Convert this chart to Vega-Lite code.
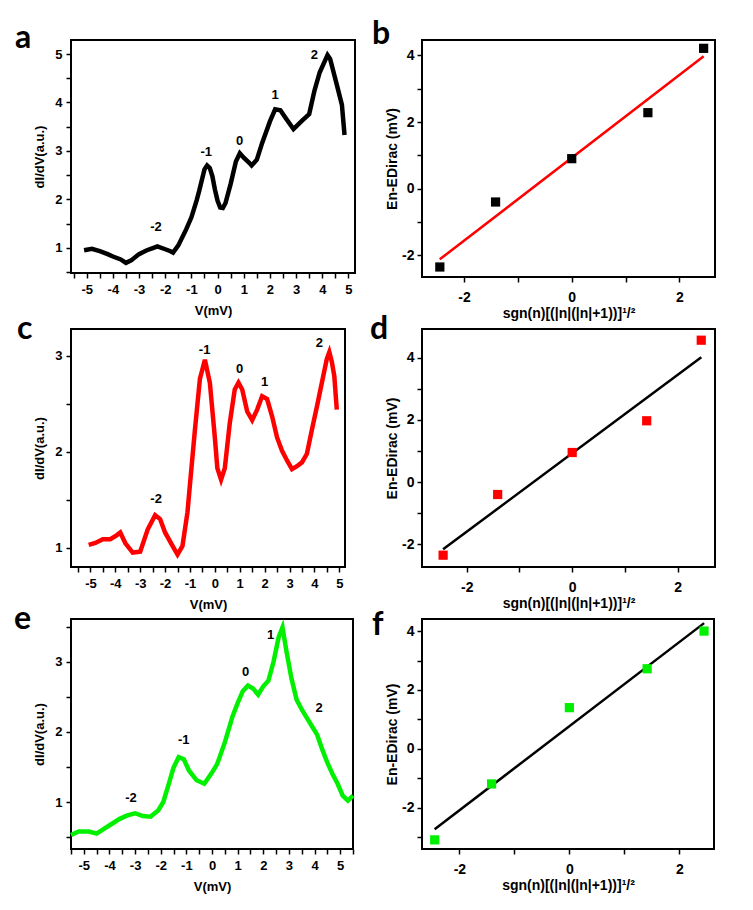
{
  "$schema": "https://vega.github.io/schema/vega-lite/v6.json",
  "description": "Landau level spectra (dI/dV) and linear fits of level energies, panels a-f.",
  "background": "white",
  "padding": {"left": 13, "top": 17, "right": 5, "bottom": 5},
  "columns": 2,
  "bounds": "flush",
  "spacing": {"column": 67, "row": 52},
  "config": {
    "font": "Liberation Sans",
    "view": {"stroke": "black", "strokeWidth": 2},
    "axis": {
      "domain": false, "grid": false, "labelOverlap": false, "tickCount": 60,
      "tickColor": "black", "tickWidth": 1.5, "tickSize": 5,
      "labelFont": "Liberation Sans", "labelFontWeight": "bold", "labelFontSize": 13, "labelColor": "black",
      "titleFont": "Liberation Sans", "titleFontWeight": "bold", "titleFontSize": 13, "titleColor": "black"
    },
    "title": {"font": "Lato", "fontSize": 32, "fontWeight": "bold", "anchor": "start", "frame": "group", "color": "black", "offset": 0, "baseline": "alphabetic"}
  },
  "datasets": {
    "curve_a": [
      {"v": -5.1, "g": 0.95}, {"v": -4.8, "g": 0.98}, {"v": -4.5, "g": 0.93}, {"v": -4.2, "g": 0.87},
      {"v": -4.0, "g": 0.82}, {"v": -3.7, "g": 0.76}, {"v": -3.5, "g": 0.69}, {"v": -3.3, "g": 0.74},
      {"v": -3.0, "g": 0.87}, {"v": -2.7, "g": 0.95}, {"v": -2.5, "g": 0.99}, {"v": -2.3, "g": 1.03},
      {"v": -2.0, "g": 0.97}, {"v": -1.8, "g": 0.93}, {"v": -1.7, "g": 0.9}, {"v": -1.5, "g": 1.05},
      {"v": -1.2, "g": 1.38}, {"v": -1.0, "g": 1.63}, {"v": -0.8, "g": 1.98}, {"v": -0.7, "g": 2.18},
      {"v": -0.5, "g": 2.62}, {"v": -0.4, "g": 2.7}, {"v": -0.3, "g": 2.65}, {"v": -0.2, "g": 2.48},
      {"v": -0.1, "g": 2.2}, {"v": 0.0, "g": 1.97}, {"v": 0.1, "g": 1.83}, {"v": 0.2, "g": 1.82},
      {"v": 0.3, "g": 1.92}, {"v": 0.5, "g": 2.32}, {"v": 0.7, "g": 2.78}, {"v": 0.85, "g": 2.95},
      {"v": 1.0, "g": 2.86}, {"v": 1.2, "g": 2.76}, {"v": 1.3, "g": 2.7}, {"v": 1.5, "g": 2.82},
      {"v": 1.7, "g": 3.16}, {"v": 2.0, "g": 3.61}, {"v": 2.2, "g": 3.86}, {"v": 2.4, "g": 3.84},
      {"v": 2.6, "g": 3.68}, {"v": 2.9, "g": 3.45}, {"v": 3.2, "g": 3.61}, {"v": 3.5, "g": 3.76},
      {"v": 3.7, "g": 4.24}, {"v": 3.9, "g": 4.62}, {"v": 4.1, "g": 4.86}, {"v": 4.2, "g": 4.98},
      {"v": 4.3, "g": 4.9}, {"v": 4.4, "g": 4.69}, {"v": 4.6, "g": 4.27}, {"v": 4.75, "g": 3.95},
      {"v": 4.85, "g": 3.33}
    ],
    "labels_a": [
      {"v": -2.35, "g": 1.42, "lab": "-2"}, {"v": -0.43, "g": 2.97, "lab": "-1"},
      {"v": 0.84, "g": 3.21, "lab": "0"}, {"v": 2.2, "g": 4.16, "lab": "1"}, {"v": 3.7, "g": 4.98, "lab": "2"}
    ],
    "curve_c": [
      {"v": -5.07, "g": 1.03}, {"v": -4.8, "g": 1.05}, {"v": -4.5, "g": 1.09}, {"v": -4.2, "g": 1.09},
      {"v": -3.95, "g": 1.13}, {"v": -3.8, "g": 1.16}, {"v": -3.6, "g": 1.05}, {"v": -3.3, "g": 0.95},
      {"v": -3.0, "g": 0.96}, {"v": -2.7, "g": 1.19}, {"v": -2.4, "g": 1.34}, {"v": -2.2, "g": 1.3},
      {"v": -2.0, "g": 1.16}, {"v": -1.7, "g": 1.02}, {"v": -1.5, "g": 0.93}, {"v": -1.3, "g": 1.02},
      {"v": -1.1, "g": 1.37}, {"v": -1.0, "g": 1.66}, {"v": -0.8, "g": 2.23}, {"v": -0.6, "g": 2.76},
      {"v": -0.4, "g": 2.96}, {"v": -0.2, "g": 2.72}, {"v": 0.0, "g": 2.15}, {"v": 0.1, "g": 1.83},
      {"v": 0.25, "g": 1.71}, {"v": 0.4, "g": 1.83}, {"v": 0.6, "g": 2.3}, {"v": 0.8, "g": 2.65},
      {"v": 0.95, "g": 2.72}, {"v": 1.1, "g": 2.65}, {"v": 1.3, "g": 2.42}, {"v": 1.5, "g": 2.33},
      {"v": 1.7, "g": 2.44}, {"v": 1.9, "g": 2.58}, {"v": 2.1, "g": 2.55}, {"v": 2.3, "g": 2.37},
      {"v": 2.5, "g": 2.15}, {"v": 2.7, "g": 2.01}, {"v": 2.9, "g": 1.91}, {"v": 3.1, "g": 1.82},
      {"v": 3.3, "g": 1.85}, {"v": 3.5, "g": 1.89}, {"v": 3.7, "g": 1.98}, {"v": 3.9, "g": 2.23},
      {"v": 4.1, "g": 2.47}, {"v": 4.3, "g": 2.72}, {"v": 4.5, "g": 2.97}, {"v": 4.6, "g": 3.04},
      {"v": 4.7, "g": 2.94}, {"v": 4.8, "g": 2.79}, {"v": 4.9, "g": 2.44}
    ],
    "labels_c": [
      {"v": -2.36, "g": 1.51, "lab": "-2"}, {"v": -0.41, "g": 3.06, "lab": "-1"},
      {"v": 1.0, "g": 2.86, "lab": "0"}, {"v": 2.0, "g": 2.73, "lab": "1"}, {"v": 4.2, "g": 3.13, "lab": "2"}
    ],
    "curve_e": [
      {"v": -5.5, "g": 0.53}, {"v": -5.2, "g": 0.58}, {"v": -4.8, "g": 0.58}, {"v": -4.5, "g": 0.55},
      {"v": -4.2, "g": 0.62}, {"v": -3.9, "g": 0.69}, {"v": -3.6, "g": 0.76}, {"v": -3.3, "g": 0.81},
      {"v": -3.0, "g": 0.84}, {"v": -2.7, "g": 0.8}, {"v": -2.4, "g": 0.79}, {"v": -2.1, "g": 0.88},
      {"v": -1.9, "g": 1.0}, {"v": -1.7, "g": 1.24}, {"v": -1.5, "g": 1.49}, {"v": -1.3, "g": 1.64},
      {"v": -1.1, "g": 1.61}, {"v": -0.9, "g": 1.45}, {"v": -0.6, "g": 1.31}, {"v": -0.3, "g": 1.26},
      {"v": 0.0, "g": 1.42}, {"v": 0.2, "g": 1.54}, {"v": 0.5, "g": 1.85}, {"v": 0.8, "g": 2.22},
      {"v": 1.0, "g": 2.41}, {"v": 1.2, "g": 2.58}, {"v": 1.4, "g": 2.66}, {"v": 1.6, "g": 2.62},
      {"v": 1.8, "g": 2.53}, {"v": 2.0, "g": 2.65}, {"v": 2.2, "g": 2.73}, {"v": 2.4, "g": 3.0},
      {"v": 2.6, "g": 3.35}, {"v": 2.75, "g": 3.49}, {"v": 2.9, "g": 3.16}, {"v": 3.1, "g": 2.76},
      {"v": 3.3, "g": 2.46}, {"v": 3.5, "g": 2.32}, {"v": 3.7, "g": 2.2}, {"v": 3.9, "g": 2.08},
      {"v": 4.1, "g": 1.96}, {"v": 4.3, "g": 1.75}, {"v": 4.5, "g": 1.56}, {"v": 4.7, "g": 1.4},
      {"v": 4.9, "g": 1.26}, {"v": 5.1, "g": 1.09}, {"v": 5.3, "g": 1.02}, {"v": 5.5, "g": 1.09}
    ],
    "labels_e": [
      {"v": -3.16, "g": 1.06, "lab": "-2"}, {"v": -1.1, "g": 1.89, "lab": "-1"},
      {"v": 1.31, "g": 2.86, "lab": "0"}, {"v": 2.29, "g": 3.38, "lab": "1"}, {"v": 4.18, "g": 2.34, "lab": "2"}
    ],
    "pts_b": [
      {"s": -2.449, "e": -2.35}, {"s": -1.414, "e": -0.4}, {"s": 0, "e": 0.9}, {"s": 1.414, "e": 2.28}, {"s": 2.449, "e": 4.21}
    ],
    "fit_b": [{"s": -2.45, "e": -2.12}, {"s": 2.45, "e": 3.97}],
    "pts_d": [
      {"s": -2.449, "e": -2.35}, {"s": -1.414, "e": -0.4}, {"s": 0, "e": 0.95}, {"s": 1.414, "e": 1.97}, {"s": 2.449, "e": 4.56}
    ],
    "fit_d": [{"s": -2.45, "e": -2.16}, {"s": 2.45, "e": 4.01}],
    "pts_f": [
      {"s": -2.449, "e": -3.09}, {"s": -1.414, "e": -1.19}, {"s": 0, "e": 1.4}, {"s": 1.414, "e": 2.72}, {"s": 2.449, "e": 4.0}
    ],
    "fit_f": [{"s": -2.45, "e": -2.73}, {"s": 2.45, "e": 4.27}]
  },
  "concat": [
    {
      "width": 284, "height": 233,
      "title": {"text": "a", "dx": -56, "dy": 19},
      "layer": [
        {
          "data": {"name": "curve_a"},
          "mark": {"type": "line", "color": "black", "strokeWidth": 4.5},
          "encoding": {
            "x": {"field": "v", "type": "quantitative", "scale": {"domain": [-5.6, 5.25], "nice": false, "zero": false},
                  "axis": {"title": "V(mV)", "values": [-5.5,-5,-4.5,-4,-3.5,-3,-2.5,-2,-1.5,-1,-0.5,0,0.5,1,1.5,2,2.5,3,3.5,4,4.5,5], "tickCount": 60, "labelOverlap": false,
                           "labelExpr": "datum.value % 1 === 0 ? toString(datum.value) : ''", "labelPadding": 5, "titlePadding": 8}},
            "y": {"field": "g", "type": "quantitative", "scale": {"domain": [0.48, 5.29], "nice": false, "zero": false},
                  "axis": {"title": "dI/dV(a.u.)", "values": [0.5,1,1.5,2,2.5,3,3.5,4,4.5,5], "tickCount": 60, "labelOverlap": false,
                           "labelExpr": "datum.value % 1 === 0 ? toString(datum.value) : ''", "labelPadding": 4, "titlePadding": 8}}
          }
        },
        {
          "data": {"name": "labels_a"},
          "mark": {"type": "text", "font": "Liberation Sans", "fontWeight": "bold", "fontSize": 13, "color": "black", "baseline": "middle"},
          "encoding": {"x": {"field": "v", "type": "quantitative"}, "y": {"field": "g", "type": "quantitative"}, "text": {"field": "lab"}}
        }
      ]
    },
    {
      "width": 293, "height": 237,
      "title": {"text": "b", "dx": -50, "dy": 15},
      "layer": [
        {
          "data": {"name": "fit_b"},
          "mark": {"type": "line", "color": "#ff0000", "strokeWidth": 2.5},
          "encoding": {
            "x": {"field": "s", "type": "quantitative", "scale": {"domain": [-2.78, 2.66], "nice": false, "zero": false},
                  "axis": {"title": "sgn(n)[(|n|(|n|+1))]¹/²", "titleFontSize": 14, "values": [-2,-1,0,1,2], "tickCount": 60, "labelFontSize": 14, "labelOverlap": false,
                           "labelExpr": "datum.value % 2 === 0 ? toString(datum.value) : ''", "labelPadding": 8, "titlePadding": 2}},
            "y": {"field": "e", "type": "quantitative", "scale": {"domain": [-2.65, 4.46], "nice": false, "zero": false},
                  "axis": {"title": "En-EDirac (mV)", "titleFontSize": 14, "values": [-2,-1,0,1,2,3,4], "tickCount": 60, "labelFontSize": 14, "labelOverlap": false,
                           "labelExpr": "datum.value % 2 === 0 ? toString(datum.value) : ''", "labelPadding": 3, "titlePadding": 2}}
          }
        },
        {
          "data": {"name": "pts_b"},
          "mark": {"type": "point", "shape": "square", "filled": true, "size": 85, "color": "black", "opacity": 1},
          "encoding": {"x": {"field": "s", "type": "quantitative"}, "y": {"field": "e", "type": "quantitative"}}
        }
      ]
    },
    {
      "width": 274, "height": 238,
      "title": {"text": "c", "dx": -54, "dy": 21},
      "layer": [
        {
          "data": {"name": "curve_c"},
          "mark": {"type": "line", "color": "#ff0000", "strokeWidth": 4.5},
          "encoding": {
            "x": {"field": "v", "type": "quantitative", "scale": {"domain": [-5.78, 5.23], "nice": false, "zero": false},
                  "axis": {"title": "V(mV)", "values": [-5.5,-5,-4.5,-4,-3.5,-3,-2.5,-2,-1.5,-1,-0.5,0,0.5,1,1.5,2,2.5,3,3.5,4,4.5,5], "tickCount": 60, "labelOverlap": false,
                           "labelExpr": "datum.value % 1 === 0 ? toString(datum.value) : ''", "labelPadding": 5, "titlePadding": 8}},
            "y": {"field": "g", "type": "quantitative", "scale": {"domain": [0.8, 3.28], "nice": false, "zero": false},
                  "axis": {"title": "dI/dV(a.u.)", "values": [1,1.5,2,2.5,3], "tickCount": 60, "labelOverlap": false,
                           "labelExpr": "datum.value % 1 === 0 ? toString(datum.value) : ''", "labelPadding": 4, "titlePadding": 8}}
          }
        },
        {
          "data": {"name": "labels_c"},
          "mark": {"type": "text", "font": "Liberation Sans", "fontWeight": "bold", "fontSize": 13, "color": "black", "baseline": "middle"},
          "encoding": {"x": {"field": "v", "type": "quantitative"}, "y": {"field": "g", "type": "quantitative"}, "text": {"field": "lab"}}
        }
      ]
    },
    {
      "width": 293, "height": 238,
      "title": {"text": "d", "dx": -52, "dy": 21},
      "layer": [
        {
          "data": {"name": "fit_d"},
          "mark": {"type": "line", "color": "black", "strokeWidth": 2.5},
          "encoding": {
            "x": {"field": "s", "type": "quantitative", "scale": {"domain": [-2.85, 2.71], "nice": false, "zero": false},
                  "axis": {"title": "sgn(n)[(|n|(|n|+1))]¹/²", "titleFontSize": 14, "values": [-2,-1,0,1,2], "tickCount": 60, "labelFontSize": 14, "labelOverlap": false,
                           "labelExpr": "datum.value % 2 === 0 ? toString(datum.value) : ''", "labelPadding": 8, "titlePadding": 2}},
            "y": {"field": "e", "type": "quantitative", "scale": {"domain": [-2.73, 4.92], "nice": false, "zero": false},
                  "axis": {"title": "En-EDirac (mV)", "titleFontSize": 14, "values": [-2,-1,0,1,2,3,4], "tickCount": 60, "labelFontSize": 14, "labelOverlap": false,
                           "labelExpr": "datum.value % 2 === 0 ? toString(datum.value) : ''", "labelPadding": 3, "titlePadding": 2}}
          }
        },
        {
          "data": {"name": "pts_d"},
          "mark": {"type": "point", "shape": "square", "filled": true, "size": 85, "color": "#ff0000", "opacity": 1},
          "encoding": {"x": {"field": "s", "type": "quantitative"}, "y": {"field": "e", "type": "quantitative"}}
        }
      ]
    },
    {
      "width": 282, "height": 230,
      "title": {"text": "e", "dx": -57, "dy": 22},
      "layer": [
        {
          "data": {"name": "curve_e"},
          "mark": {"type": "line", "color": "#00f000", "strokeWidth": 4.5},
          "encoding": {
            "x": {"field": "v", "type": "quantitative", "scale": {"domain": [-5.5, 5.5], "nice": false, "zero": false},
                  "axis": {"title": "V(mV)", "values": [-5.5,-5,-4.5,-4,-3.5,-3,-2.5,-2,-1.5,-1,-0.5,0,0.5,1,1.5,2,2.5,3,3.5,4,4.5,5,5.5], "tickCount": 60, "labelOverlap": false,
                           "labelExpr": "datum.value % 1 === 0 ? toString(datum.value) : ''", "labelPadding": 5, "titlePadding": 8}},
            "y": {"field": "g", "type": "quantitative", "scale": {"domain": [0.33, 3.61], "nice": false, "zero": false},
                  "axis": {"title": "dI/dV(a.u.)", "values": [0.5,1,1.5,2,2.5,3,3.5], "tickCount": 60, "labelOverlap": false,
                           "labelExpr": "datum.value % 1 === 0 ? toString(datum.value) : ''", "labelPadding": 4, "titlePadding": 8}}
          }
        },
        {
          "data": {"name": "labels_e"},
          "mark": {"type": "text", "font": "Liberation Sans", "fontWeight": "bold", "fontSize": 13, "color": "black", "baseline": "middle"},
          "encoding": {"x": {"field": "v", "type": "quantitative"}, "y": {"field": "g", "type": "quantitative"}, "text": {"field": "lab"}}
        }
      ]
    },
    {
      "width": 292, "height": 230,
      "title": {"text": "f", "dx": -50, "dy": 28},
      "layer": [
        {
          "data": {"name": "fit_f"},
          "mark": {"type": "line", "color": "black", "strokeWidth": 2.5},
          "encoding": {
            "x": {"field": "s", "type": "quantitative", "scale": {"domain": [-2.68, 2.63], "nice": false, "zero": false},
                  "axis": {"title": "sgn(n)[(|n|(|n|+1))]¹/²", "titleFontSize": 14, "values": [-2,-1,0,1,2], "tickCount": 60, "labelFontSize": 14, "labelOverlap": false,
                           "labelExpr": "datum.value % 2 === 0 ? toString(datum.value) : ''", "labelPadding": 8, "titlePadding": 2}},
            "y": {"field": "e", "type": "quantitative", "scale": {"domain": [-3.4, 4.41], "nice": false, "zero": false},
                  "axis": {"title": "En-EDirac (mV)", "titleFontSize": 14, "values": [-3,-2,-1,0,1,2,3,4], "tickCount": 60, "labelFontSize": 14, "labelOverlap": false,
                           "labelExpr": "datum.value % 2 === 0 ? toString(datum.value) : ''", "labelPadding": 3, "titlePadding": 2}}
          }
        },
        {
          "data": {"name": "pts_f"},
          "mark": {"type": "point", "shape": "square", "filled": true, "size": 85, "color": "#00f000", "opacity": 1},
          "encoding": {"x": {"field": "s", "type": "quantitative"}, "y": {"field": "e", "type": "quantitative"}}
        }
      ]
    }
  ]
}
